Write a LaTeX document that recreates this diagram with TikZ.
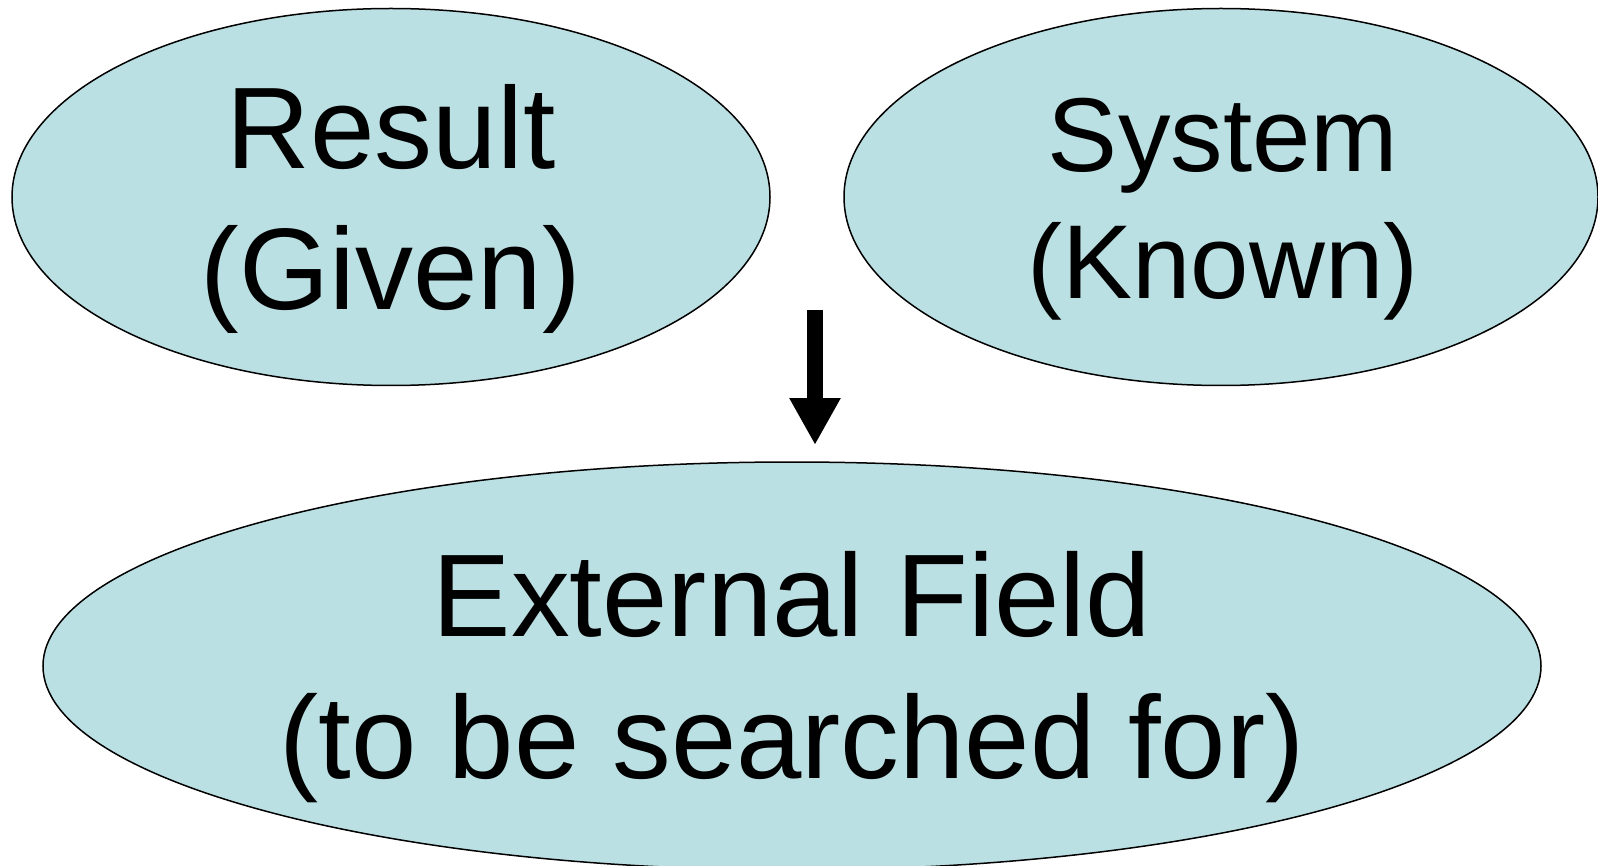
\documentclass[tikz,border=0pt]{standalone}
\usepackage{fontspec}
\setmainfont{Liberation Sans}
\usetikzlibrary{shapes.geometric,arrows.meta}

\definecolor{fieldblue}{HTML}{BBE0E3}

\tikzset{
  bubble/.style={ellipse, draw=black, line width=1.5pt, fill=fieldblue, inner sep=0pt},
  bubbletext/.style={align=center, inner sep=0pt, font=\fontsize{116}{141}\selectfont},
}

\begin{document}
\begin{tikzpicture}[x=1pt,y=1pt]

    \clip (0,0) rectangle (1598,-866);
    \fill[white] (0,0) rectangle (1598,-866);

    % the three fields
    \node[bubble, minimum width=758, minimum height=377] (result) at (391,-197) {};
    \node[bubble, minimum width=754, minimum height=377] (system) at (1221,-197) {};
    \node[bubble, minimum width=1498, minimum height=408] (field) at (792,-666) {};

    \node[bubbletext] (resulttext) at (391,-209) {Result\\(Given)};
    \node[bubbletext, font=\fontsize{105}{127}\selectfont] (systemtext) at (1223,-209) {System\\(Known)};
    \node[bubbletext, font=\fontsize{117.5}{142}\selectfont] (fieldtext) at (792,-677) {External Field\\(to be searched for)};

    \coordinate (arrowtop) at (815,-310);
    \coordinate (arrowtip) at (815,-445);
    \draw[line width=16pt, -{Triangle[width=48pt,length=47pt]}] (arrowtop) -- (arrowtip);

\end{tikzpicture}
\end{document}
